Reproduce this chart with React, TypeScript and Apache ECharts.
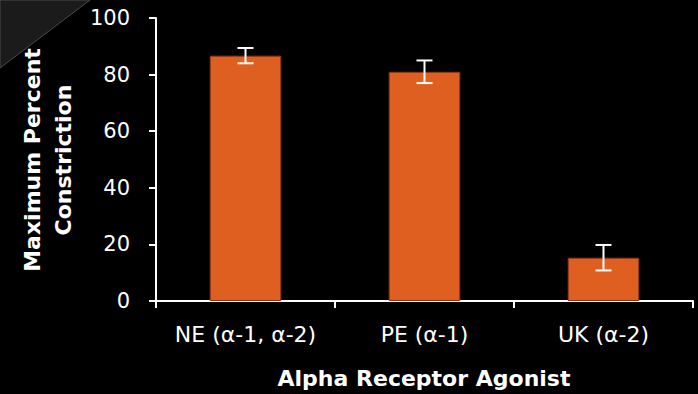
import React, { useEffect, useRef } from "react";
import * as echarts from "echarts";

const categories = ["NE (\u03b1-1, \u03b1-2)", "PE (\u03b1-1)", "UK (\u03b1-2)"];
const meanValues = [86.7, 81, 15.3];
const errorValues = [2.7, 4, 4.5];
const yTicks = [0, 20, 40, 60, 80, 100];
const yTitle = "Maximum Percent\nConstriction";
const xTitle = "Alpha Receptor Agonist";

const FONT = "'DejaVu Sans', 'Open Sans', sans-serif";

export default function App() {
  const ref = useRef<HTMLDivElement>(null);
  useEffect(() => {
    if (!ref.current) return;
    const chart = echarts.init(ref.current, null, { renderer: "svg" });
    const errData = meanValues.map((m, i) => [i, m - errorValues[i], m + errorValues[i]]);
    chart.setOption({
      animation: false,
      backgroundColor: "#000000",
      grid: { left: 156, right: 5, top: 18, bottom: 93 },
      graphic: [
        {
          type: "polygon",
          shape: { points: [[0, 0], [90, 0], [0, 68]] },
          style: { fill: "#1b1b1b", stroke: "#4a4a4a", lineWidth: 1 },
          silent: true,
          z: -1,
        },
        {
          type: "text",
          x: 48,
          y: 160,
          rotation: Math.PI / 2,
          style: {
            text: yTitle,
            fill: "#ffffff",
            font: `bold 22px ${FONT}`,
            align: "center",
            verticalAlign: "middle",
            lineHeight: 31,
          },
        },
        {
          type: "text",
          x: 424,
          y: 378,
          style: {
            text: xTitle,
            fill: "#ffffff",
            font: `bold 22px ${FONT}`,
            align: "center",
            verticalAlign: "middle",
          },
        },
      ],
      xAxis: {
        type: "category",
        data: categories,
        axisLine: { show: true, lineStyle: { color: "#ffffff", width: 2 } },
        axisTick: { show: true, length: 7, lineStyle: { color: "#ffffff", width: 2 } },
        axisLabel: { color: "#ffffff", fontSize: 22, fontFamily: FONT, margin: 22, interval: 0 },
        splitLine: { show: false },
      },
      yAxis: {
        type: "value",
        min: 0,
        max: 100,
        interval: 20,
        axisLine: { show: true, lineStyle: { color: "#ffffff", width: 2 } },
        axisTick: { show: true, length: 7, lineStyle: { color: "#ffffff", width: 2 } },
        axisLabel: {
          color: "#ffffff",
          fontSize: 21,
          fontFamily: FONT,
          margin: 26,
          formatter: (v: number) => (yTicks.includes(v) ? String(v) : ""),
        },
        splitLine: { show: false },
      },
      series: [
        {
          type: "bar",
          data: meanValues,
          barWidth: "40%",
          itemStyle: { color: "#DE5F1F", borderColor: "#8a3512", borderWidth: 1 },
        },
        {
          type: "custom",
          data: errData,
          z: 10,
          renderItem: (params: any, api: any) => {
            const x = api.value(0);
            const lo = api.coord([x, api.value(1)]);
            const hi = api.coord([x, api.value(2)]);
            const half = 8;
            const style = { stroke: "#ffffff", lineWidth: 2 };
            return {
              type: "group",
              children: [
                { type: "line", shape: { x1: hi[0], y1: hi[1], x2: lo[0], y2: lo[1] }, style },
                { type: "line", shape: { x1: hi[0] - half, y1: hi[1], x2: hi[0] + half, y2: hi[1] }, style },
                { type: "line", shape: { x1: lo[0] - half, y1: lo[1], x2: lo[0] + half, y2: lo[1] }, style },
              ],
            };
          },
        },
      ],
    });
    return () => chart.dispose();
  }, []);
  return (
    <div
      ref={ref}
      style={{ position: "fixed", left: 0, top: 0, width: 698, height: 394, background: "#000" }}
    />
  );
}
